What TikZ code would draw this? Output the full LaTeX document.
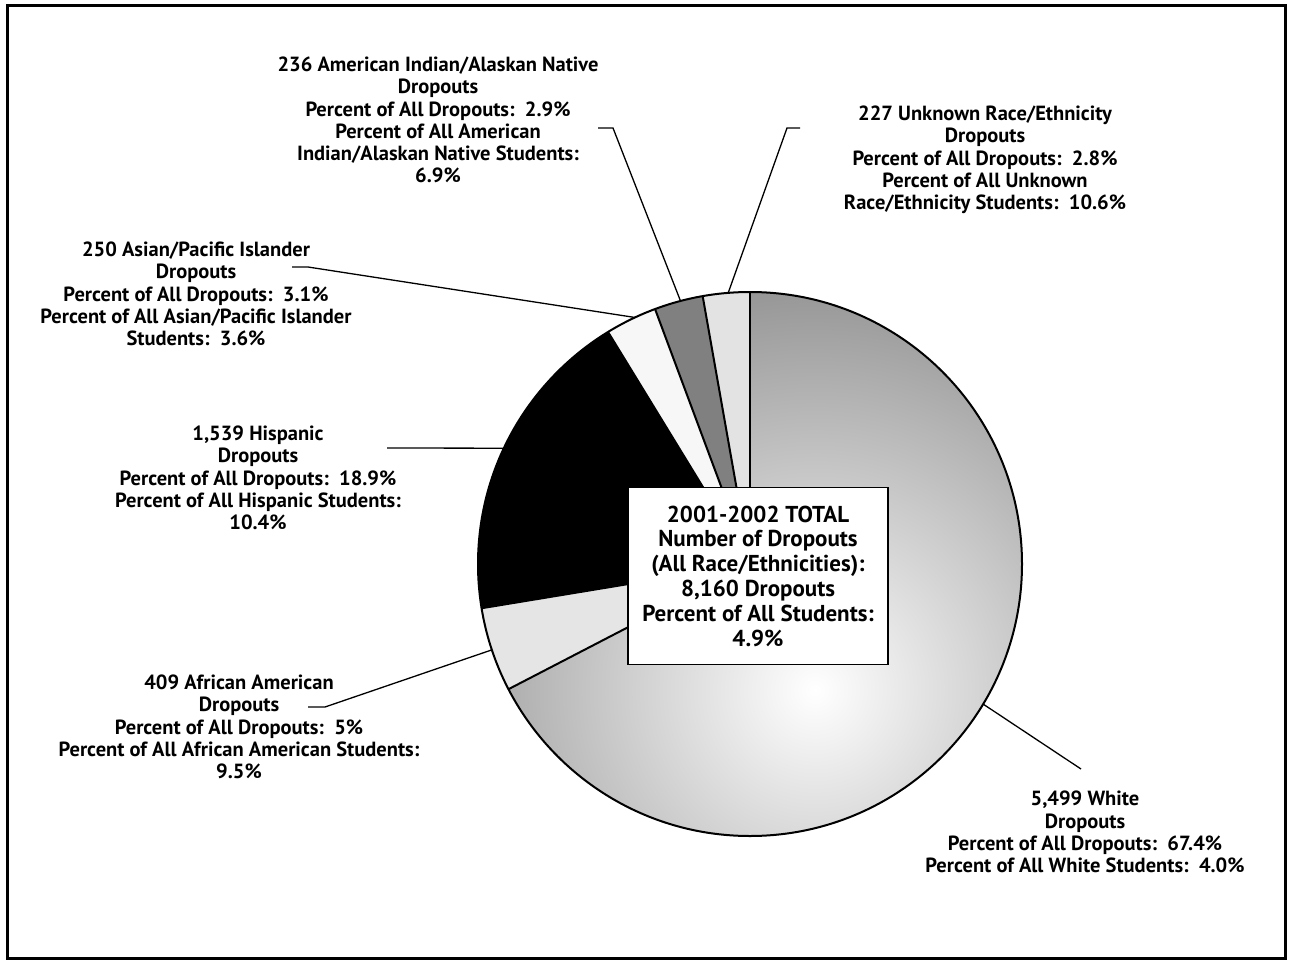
\documentclass[tikz,border=0pt]{standalone}
\usepackage{fontspec}
\setmainfont{PT Sans}

\tikzset{
  lbl/.style={align=center, inner sep=0pt, font=\bfseries\fontsize{20.5}{22.3}\selectfont},
  lead/.style={line width=1.3pt},
  rim/.style={line width=2pt},
}

\begin{document}
\begin{tikzpicture}[x=1pt,y=1pt]
\useasboundingbox (0,0) rectangle (1291,-961);
% outer frame
\draw[line width=3pt] (7.5,-5) rectangle (1285,-958);

% pie centre and radius
\coordinate (c) at (750,-564);
\def\rad{272}

% white slice with its shading
\begin{scope}
  \clip (c) -- ++(90:\rad) arc[start angle=90, end angle=-152.60, radius=\rad] -- cycle;
  \shade[inner color=white, outer color=black!58] (815,-690) circle[radius=570];
\end{scope}

% the other slices
\foreach \a/\b/\col in {-152.60/-170.64/black!10, -170.64/-238.54/black,
    -238.54/-249.57/black!3, -249.57/-259.98/black!50, -259.98/-270/black!11}
  \fill[\col] (c) -- ++(\a:\rad) arc[start angle=\a, end angle=\b, radius=\rad] -- cycle;

% borders between slices
\foreach \a in {90,-152.60,-170.64,-238.54,-249.57,-259.98}
  \draw[rim] (c) -- ++(\a:\rad);
\draw[rim] (c) circle[radius=\rad];

% total in the middle
\node[draw, fill=white, line width=1.5pt, minimum width=260pt, minimum height=177pt,
  align=center, inner sep=0pt, font=\bfseries\fontsize{23}{24.8}\selectfont]
  (total) at (758,-576) {2001-2002 TOTAL\\Number of Dropouts\\(All Race/Ethnicities):\\8,160 Dropouts\\Percent of All Students:\\4.9\%};

% labels
\node[lbl] (amind) at (438,-120) {236 American Indian/Alaskan Native\\Dropouts\\Percent of All Dropouts:~~2.9\%\\Percent of All American\\Indian/Alaskan Native Students:\\6.9\%};
\node[lbl] (unknown) at (985,-160) {227 Unknown Race/Ethnicity\\Dropouts\\Percent of All Dropouts:~~2.8\%\\Percent of All Unknown\\Race/Ethnicity Students:~~10.6\%};
\node[lbl] (asian) at (196,-294) {250 Asian/Pacific Islander\\Dropouts\\Percent of All Dropouts:~~3.1\%\\Percent of All Asian/Pacific Islander\\Students:~~3.6\%};
\node[lbl] (hisp) at (258,-478) {1,539 Hispanic\\Dropouts\\Percent of All Dropouts:~~18.9\%\\Percent of All Hispanic Students:\\10.4\%};
\node[lbl] (afram) at (239,-727) {409 African American\\Dropouts\\Percent of All Dropouts:~~5\%\\Percent of All African American Students:\\9.5\%};
\node[lbl] (white) at (1085,-832) {5,499 White\\Dropouts\\Percent of All Dropouts:~~67.4\%\\Percent of All White Students:~~4.0\%};

% leader lines
\coordinate (tamind) at (598,-128);
\coordinate (tunknown) at (800,-128);
\coordinate (tasian) at (292,-267);
\coordinate (thisp) at (387,-448);
\coordinate (tafram) at (308,-707);
\coordinate (twhite) at (1081,-769);

\draw[lead] (tamind) -- ++(15,0) -- ([shift={(104.8:\rad)}]c);
\draw[lead] (tunknown) -- ++(-13,0) -- ([shift={(94.6:\rad)}]c);
\draw[lead] (tasian) -- ++(16,0) -- ([shift={(115:\rad)}]c);
\draw[lead] (thisp) -- ([shift={(154.8:\rad)}]c);
\draw[lead] (tafram) -- ++(17,0) -- ([shift={(198.4:\rad)}]c);
\draw[lead] (twhite) -- ([shift={(-31:\rad)}]c);

\end{tikzpicture}
\end{document}
